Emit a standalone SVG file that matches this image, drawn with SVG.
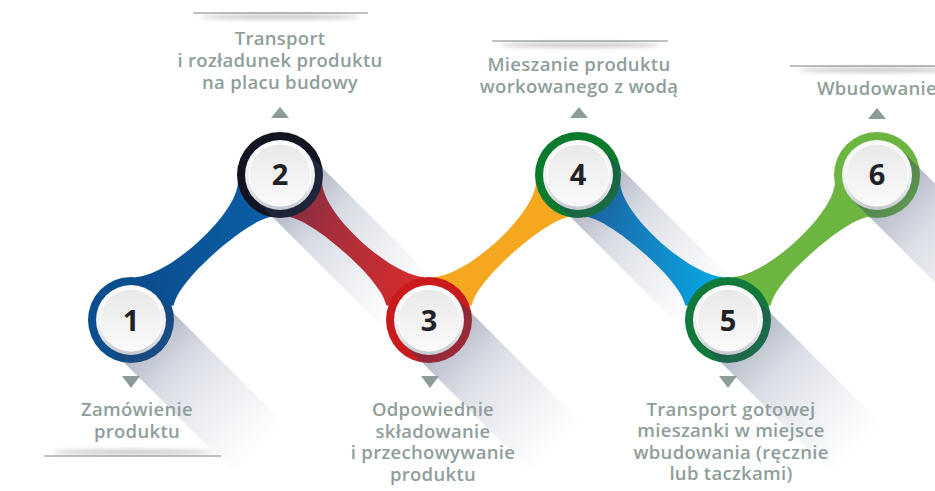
<svg xmlns="http://www.w3.org/2000/svg" width="935" height="491" viewBox="0 0 935 491">
<defs>
<style>
.lbl{font-family:"Open Sans","Liberation Sans",sans-serif;font-weight:600;font-size:18.5px;fill:#8f9e9b;text-anchor:middle;letter-spacing:0.3px}
.num{font-family:"Open Sans","Liberation Sans",sans-serif;font-weight:700;font-size:29px;fill:#222226;text-anchor:middle}
.tri{fill:#8e9c99}
.ln{stroke:#7f8585;stroke-width:1.2}
</style>
<linearGradient id="gShadow" x1="0" y1="0" x2="1" y2="0">
<stop offset="0" stop-color="#26355a" stop-opacity="0.45"/>
<stop offset="0.4" stop-color="#4a5a80" stop-opacity="0.2"/>
<stop offset="1" stop-color="#7a88a8" stop-opacity="0"/>
</linearGradient>
<linearGradient id="gDiskOuter" x1="0" y1="0" x2="0" y2="1">
<stop offset="0" stop-color="#fbfbfb"/>
<stop offset="0.6" stop-color="#eeeff1"/>
<stop offset="1" stop-color="#c6c9d1"/>
</linearGradient>
<linearGradient id="gDiskInner" x1="0" y1="0" x2="0" y2="1">
<stop offset="0" stop-color="#e9e9ea"/>
<stop offset="1" stop-color="#fafafa"/>
</linearGradient>
<linearGradient id="gBlue1" x1="0" y1="0" x2="1" y2="0">
<stop offset="0" stop-color="#0a4d8d"/>
<stop offset="1" stop-color="#0b60a8"/>
</linearGradient>
<linearGradient id="gRed" x1="0" y1="0" x2="1" y2="0">
<stop offset="0" stop-color="#b01f2a"/>
<stop offset="1" stop-color="#d92b2b"/>
</linearGradient>
<linearGradient id="gBlue2" x1="0" y1="0" x2="1" y2="0">
<stop offset="0" stop-color="#0a6cb4"/>
<stop offset="1" stop-color="#05abe8"/>
</linearGradient>
<filter id="fBlur" x="-20%" y="-200%" width="140%" height="500%">
<feGaussianBlur stdDeviation="2.2"/>
</filter>
<g id="disk">
<circle r="35" fill="url(#gDiskOuter)"/>
<circle r="31" fill="url(#gDiskInner)" stroke="#ffffff" stroke-width="1"/>
</g>
<rect id="shadow" x="0" y="-35" width="185" height="70" fill="url(#gShadow)"/>
</defs>
<rect width="935" height="491" fill="#ffffff"/>

<g id="connectors">
<path d="M136,277 C168,276 237,215 238,182 L280,175 L270,217 C245,222 178,280 174,305 L131,320 Z" fill="url(#gBlue1)"/>
<path d="M424,277 C392,276 323,215 322,182 L280,175 L290,217 C315,222 382,280 386,305 L429,320 Z" fill="url(#gRed)"/>
<path d="M434,277 C466,276 535,215 536,182 L578,175 L568,217 C543,222 476,280 472,305 L429,320 Z" fill="#f3a81f"/>
<path d="M723,277 C691,276 621,215 620,182 L578,175 L588,217 C613,222 681,280 685,305 L728,320 Z" fill="url(#gBlue2)"/>
<path d="M733,277 C765,276 834,215 835,182 L877,175 L867,217 C842,222 775,280 771,305 L728,320 Z" fill="#6cb540"/>
</g>

<g id="node1">
<circle cx="131" cy="320" r="43" fill="#0a4e8e"/>
<use href="#shadow" transform="translate(131,320) rotate(45)"/>
<use href="#disk" transform="translate(131,320)"/>
<text class="num" x="131" y="331">1</text>
<polygon class="tri" points="122,376 140,376 131,388"/>
<text class="lbl" x="137" y="416">Zamówienie</text>
<text class="lbl" x="137" y="438">produktu</text>
<ellipse cx="132" cy="452" rx="80" ry="2.5" fill="#000" opacity="0.22" filter="url(#fBlur)"/>
<line class="ln" x1="44" y1="456" x2="221" y2="456"/>
</g>

<g id="node2">
<circle cx="280" cy="175" r="43" fill="#12141f"/>
<use href="#shadow" transform="translate(280,175) rotate(45)"/>
<use href="#disk" transform="translate(280,175)"/>
<text class="num" x="280" y="185">2</text>
<polygon class="tri" points="271,118 289,118 280,107"/>
<line class="ln" x1="193" y1="13" x2="368" y2="13"/>
<ellipse cx="280" cy="17" rx="80" ry="2.5" fill="#000" opacity="0.22" filter="url(#fBlur)"/>
<text class="lbl" x="280" y="45">Transport</text>
<text class="lbl" x="280" y="67">i rozładunek produktu</text>
<text class="lbl" x="280" y="89">na placu budowy</text>
</g>

<g id="node3">
<circle cx="429" cy="320" r="43" fill="#c91a1e"/>
<use href="#shadow" transform="translate(429,320) rotate(45)"/>
<use href="#disk" transform="translate(429,320)"/>
<text class="num" x="429" y="331">3</text>
<polygon class="tri" points="421,376 439,376 430,388"/>
<text class="lbl" x="433" y="416">Odpowiednie</text>
<text class="lbl" x="433" y="438">składowanie</text>
<text class="lbl" x="433" y="459">i przechowywanie</text>
<text class="lbl" x="433" y="481">produktu</text>
</g>

<g id="node4">
<circle cx="578" cy="175" r="43" fill="#0b7a2c"/>
<use href="#shadow" transform="translate(578,175) rotate(45)"/>
<use href="#disk" transform="translate(578,175)"/>
<text class="num" x="578" y="185">4</text>
<polygon class="tri" points="570,118 588,118 579,107"/>
<line class="ln" x1="492" y1="41" x2="668" y2="41"/>
<ellipse cx="580" cy="45" rx="80" ry="2.5" fill="#000" opacity="0.22" filter="url(#fBlur)"/>
<text class="lbl" x="579" y="71">Mieszanie produktu</text>
<text class="lbl" x="579" y="93">workowanego z wodą</text>
</g>

<g id="node5">
<circle cx="728" cy="320" r="43" fill="#117a3a"/>
<use href="#shadow" transform="translate(728,320) rotate(45)"/>
<use href="#disk" transform="translate(728,320)"/>
<text class="num" x="728" y="331">5</text>
<polygon class="tri" points="719,376 737,376 728,388"/>
<text class="lbl" x="731" y="416">Transport gotowej</text>
<text class="lbl" x="731" y="437">mieszanki w miejsce</text>
<text class="lbl" x="731" y="459">wbudowania (ręcznie</text>
<text class="lbl" x="731" y="480">lub taczkami)</text>
</g>

<g id="node6">
<circle cx="877" cy="175" r="43" fill="#6cb540"/>
<use href="#shadow" transform="translate(877,175) rotate(45)"/>
<use href="#disk" transform="translate(877,175)"/>
<text class="num" x="877" y="185">6</text>
<polygon class="tri" points="868,119 886,119 877,108"/>
<line class="ln" x1="790" y1="66" x2="966" y2="66"/>
<ellipse cx="878" cy="70" rx="80" ry="2.5" fill="#000" opacity="0.22" filter="url(#fBlur)"/>
<text class="lbl" x="877" y="95">Wbudowanie</text>
</g>
</svg>
